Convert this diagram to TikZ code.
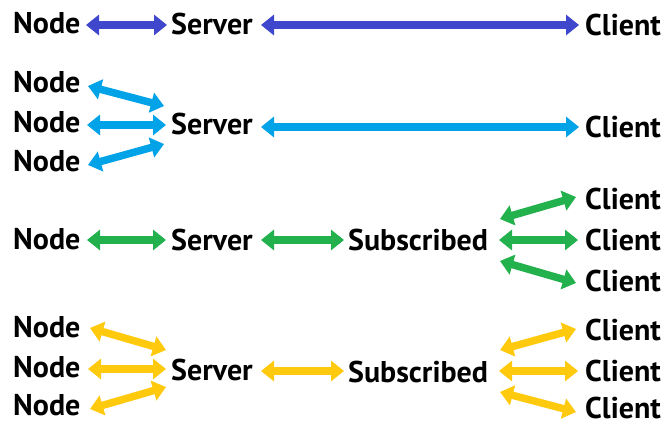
\documentclass[tikz,border=0pt]{standalone}
\usepackage{fontspec}
\setmainfont{PT Sans}
\usetikzlibrary{arrows.meta}
\definecolor{cblue}{HTML}{3F48CC}
\definecolor{clblue}{HTML}{00A2E8}
\definecolor{cgreen}{HTML}{22B14C}
\definecolor{cyellow}{HTML}{FFC90E}
\tikzset{
  lbl/.style={font=\bfseries\fontsize{30}{33}\selectfont, inner sep=0pt, anchor=west},
  link/.style={line width=7.5pt, {Triangle[length=13pt,width=20pt]}-{Triangle[length=13pt,width=20pt]}},
}
\begin{document}
\begin{tikzpicture}[x=1pt,y=-1pt]
\useasboundingbox (0,0) rectangle (666,425);
% Row 1
\node[lbl] (n1) at (13,23) {Node};
\node[lbl] (s1) at (171,24) {Server};
\node[lbl] (c1) at (585,25) {Client};
\coordinate (n1e) at (86,25); \coordinate (s1w) at (167,25);
\coordinate (s1e) at (261,25); \coordinate (c1w) at (579,25);
\draw[link,cblue] (n1e) -- (s1w);
\draw[link,cblue] (s1e) -- (c1w);
% Row 2
\node[lbl] (n2a) at (13,82) {Node};
\node[lbl] (n2b) at (13,122) {Node};
\node[lbl] (n2c) at (13,161) {Node};
\node[lbl] (s2) at (171,124) {Server};
\node[lbl] (c2) at (585,127) {Client};
\coordinate (a2a) at (88,86); \coordinate (b2a) at (164,106);
\coordinate (a2b) at (87,125); \coordinate (b2b) at (166,125);
\coordinate (a2c) at (88,165); \coordinate (b2c) at (164,144);
\coordinate (s2e) at (261,127); \coordinate (c2w) at (579,127);
\draw[link,clblue] (a2a) -- (b2a);
\draw[link,clblue] (a2b) -- (b2b);
\draw[link,clblue] (a2c) -- (b2c);
\draw[link,clblue] (s2e) -- (c2w);
% Row 3
\node[lbl] (n3) at (13,239) {Node};
\node[lbl] (s3) at (171,240) {Server};
\node[lbl] (u3) at (348,240) {Subscribed};
\node[lbl] (c3a) at (585,199) {Client};
\node[lbl] (c3b) at (585,240) {Client};
\node[lbl] (c3c) at (585,281) {Client};
\coordinate (n3e) at (87,240); \coordinate (s3w) at (166,240);
\coordinate (s3e) at (261,240); \coordinate (u3w) at (344,240);
\coordinate (u3a) at (500,219); \coordinate (c3aw) at (576,197);
\coordinate (u3b) at (499,240); \coordinate (c3bw) at (578,240);
\coordinate (u3c) at (500,261); \coordinate (c3cw) at (576,283);
\draw[link,cgreen] (n3e) -- (s3w);
\draw[link,cgreen] (s3e) -- (u3w);
\draw[link,cgreen] (u3a) -- (c3aw);
\draw[link,cgreen] (u3b) -- (c3bw);
\draw[link,cgreen] (u3c) -- (c3cw);
% Row 4
\node[lbl] (n4a) at (13,327) {Node};
\node[lbl] (n4b) at (13,367) {Node};
\node[lbl] (n4c) at (13,405) {Node};
\node[lbl] (s4) at (171,370) {Server};
\node[lbl] (u4) at (348,372) {Subscribed};
\node[lbl] (c4a) at (585,330) {Client};
\node[lbl] (c4b) at (585,371) {Client};
\node[lbl] (c4c) at (585,408) {Client};
\coordinate (a4a) at (90,328); \coordinate (b4a) at (166,350);
\coordinate (a4b) at (88,369); \coordinate (b4b) at (166,369);
\coordinate (a4c) at (90,409); \coordinate (b4c) at (166,387);
\coordinate (s4e) at (261,371); \coordinate (u4w) at (344,371);
\coordinate (u4a) at (500,350); \coordinate (c4aw) at (576,329);
\coordinate (u4b) at (499,371); \coordinate (c4bw) at (578,371);
\coordinate (u4c) at (500,392); \coordinate (c4cw) at (576,412);
\draw[link,cyellow] (a4a) -- (b4a);
\draw[link,cyellow] (a4b) -- (b4b);
\draw[link,cyellow] (a4c) -- (b4c);
\draw[link,cyellow] (s4e) -- (u4w);
\draw[link,cyellow] (u4a) -- (c4aw);
\draw[link,cyellow] (u4b) -- (c4bw);
\draw[link,cyellow] (u4c) -- (c4cw);
\end{tikzpicture}
\end{document}
